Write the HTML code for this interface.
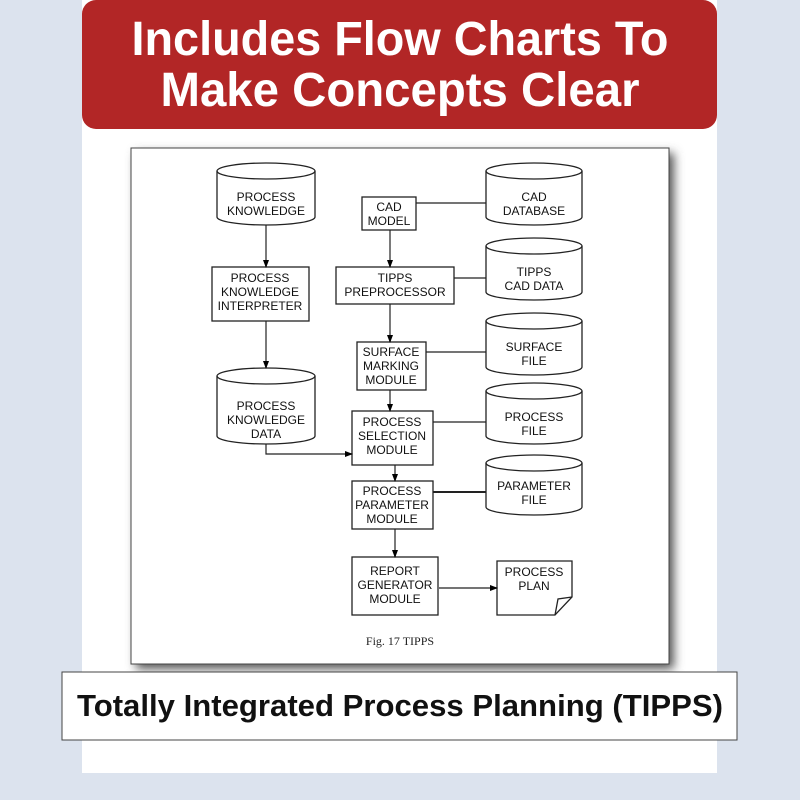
<!DOCTYPE html>
<html><head><meta charset="utf-8"><style>html,body{margin:0;padding:0;background:#dce3ee}svg{display:block}</style></head>
<body>
<svg width="800" height="800" viewBox="0 0 800 800" xmlns="http://www.w3.org/2000/svg" font-family="Liberation Sans, sans-serif">
<defs>
<filter id="sh" x="-10%" y="-10%" width="120%" height="120%"><feGaussianBlur stdDeviation="5"/></filter>
<marker id="ar" markerWidth="8" markerHeight="8" refX="7" refY="4" orient="auto" markerUnits="userSpaceOnUse"><path d="M0,1 L8,4 L0,7 z" fill="#000"/></marker>
</defs>
<rect width="800" height="800" fill="#dce3ee"/>
<rect x="82" y="0" width="635" height="773" fill="#fff"/>
<rect x="82" y="0" width="635" height="129" rx="14" fill="#b22626"/>
<g fill="#fff" font-weight="bold" font-size="48" text-anchor="middle">
<text x="400" y="55" textLength="537" lengthAdjust="spacingAndGlyphs">Includes Flow Charts To</text>
<text x="400" y="106" textLength="479" lengthAdjust="spacingAndGlyphs">Make Concepts Clear</text>
</g>
<rect x="136" y="153" width="538" height="516" fill="#555" filter="url(#sh)"/>
<rect x="131" y="148" width="538" height="516" fill="#fff" stroke="#444" stroke-width="1"/>
<g fill="#fff" stroke="#222" stroke-width="1.3">
<!-- cylinders -->
<path d="M217,171 A49,8 0 0 1 315,171 V217 A49,8 0 0 1 217,217 Z"/><path d="M217,171 A49,8 0 0 0 315,171" fill="none"/>
<path d="M486,171 A48,8 0 0 1 582,171 V217 A48,8 0 0 1 486,217 Z"/><path d="M486,171 A48,8 0 0 0 582,171" fill="none"/>
<path d="M486,246 A48,8 0 0 1 582,246 V292 A48,8 0 0 1 486,292 Z"/><path d="M486,246 A48,8 0 0 0 582,246" fill="none"/>
<path d="M486,321 A48,8 0 0 1 582,321 V367 A48,8 0 0 1 486,367 Z"/><path d="M486,321 A48,8 0 0 0 582,321" fill="none"/>
<path d="M486,391 A48,8 0 0 1 582,391 V436 A48,8 0 0 1 486,436 Z"/><path d="M486,391 A48,8 0 0 0 582,391" fill="none"/>
<path d="M486,463 A48,8 0 0 1 582,463 V507 A48,8 0 0 1 486,507 Z"/><path d="M486,463 A48,8 0 0 0 582,463" fill="none"/>
<path d="M217,376 A49,8 0 0 1 315,376 V436 A49,8 0 0 1 217,436 Z"/><path d="M217,376 A49,8 0 0 0 315,376" fill="none"/>
<!-- boxes -->
<rect x="362" y="197" width="54" height="33"/>
<rect x="212" y="267" width="97" height="54"/>
<rect x="336" y="267" width="118" height="37"/>
<rect x="357" y="342" width="69" height="48"/>
<rect x="352" y="411" width="81" height="54"/>
<rect x="352" y="481" width="81" height="48"/>
<rect x="352" y="557" width="86" height="58"/>
<path d="M497,561 H572 V597 L555,615 H497 Z"/><path d="M572,597 L558,599 L555,615" fill="none"/>
</g>
<g stroke="#222" stroke-width="1.2" fill="none">
<line x1="416" y1="203" x2="486" y2="203"/>
<line x1="454" y1="278" x2="486" y2="278"/>
<line x1="426" y1="352" x2="486" y2="352"/>
<line x1="433" y1="422" x2="486" y2="422"/>
<line x1="433" y1="492" x2="486" y2="492" stroke-width="2"/>
<line x1="266" y1="225" x2="266" y2="267" marker-end="url(#ar)"/>
<line x1="266" y1="321" x2="266" y2="368" marker-end="url(#ar)"/>
<polyline points="266,444 266,454 352,454" marker-end="url(#ar)"/>
<line x1="390" y1="230" x2="390" y2="267" marker-end="url(#ar)"/>
<line x1="390" y1="304" x2="390" y2="342" marker-end="url(#ar)"/>
<line x1="390" y1="390" x2="390" y2="411" marker-end="url(#ar)"/>
<line x1="395" y1="465" x2="395" y2="481" marker-end="url(#ar)"/>
<line x1="395" y1="529" x2="395" y2="557" marker-end="url(#ar)"/>
<line x1="439" y1="588" x2="497" y2="588" marker-end="url(#ar)"/>
</g>
<g font-size="12" fill="#111" text-anchor="middle">
<text x="266" y="201">PROCESS</text><text x="266" y="215">KNOWLEDGE</text>
<text x="389" y="211">CAD</text><text x="389" y="225">MODEL</text>
<text x="534" y="201">CAD</text><text x="534" y="215">DATABASE</text>
<text x="260" y="282">PROCESS</text><text x="260" y="296">KNOWLEDGE</text><text x="260" y="310">INTERPRETER</text>
<text x="395" y="282">TIPPS</text><text x="395" y="296">PREPROCESSOR</text>
<text x="534" y="276">TIPPS</text><text x="534" y="290">CAD DATA</text>
<text x="391" y="356">SURFACE</text><text x="391" y="370">MARKING</text><text x="391" y="384">MODULE</text>
<text x="534" y="351">SURFACE</text><text x="534" y="365">FILE</text>
<text x="266" y="410">PROCESS</text><text x="266" y="424">KNOWLEDGE</text><text x="266" y="438">DATA</text>
<text x="392" y="426">PROCESS</text><text x="392" y="440">SELECTION</text><text x="392" y="454">MODULE</text>
<text x="534" y="421">PROCESS</text><text x="534" y="435">FILE</text>
<text x="392" y="495">PROCESS</text><text x="392" y="509">PARAMETER</text><text x="392" y="523">MODULE</text>
<text x="534" y="490">PARAMETER</text><text x="534" y="504">FILE</text>
<text x="395" y="575">REPORT</text><text x="395" y="589">GENERATOR</text><text x="395" y="603">MODULE</text>
<text x="534" y="576">PROCESS</text><text x="534" y="590">PLAN</text>
</g>
<text x="400" y="645" font-family="Liberation Serif, serif" font-size="12" text-anchor="middle" fill="#222">Fig. 17 TIPPS</text>
<rect x="62" y="672" width="675" height="68" fill="#fff" stroke="#444" stroke-width="1"/>
<text x="400" y="716" font-weight="bold" font-size="31" text-anchor="middle" fill="#111" textLength="646" lengthAdjust="spacingAndGlyphs">Totally Integrated Process Planning (TIPPS)</text>
</svg>
</body></html>
